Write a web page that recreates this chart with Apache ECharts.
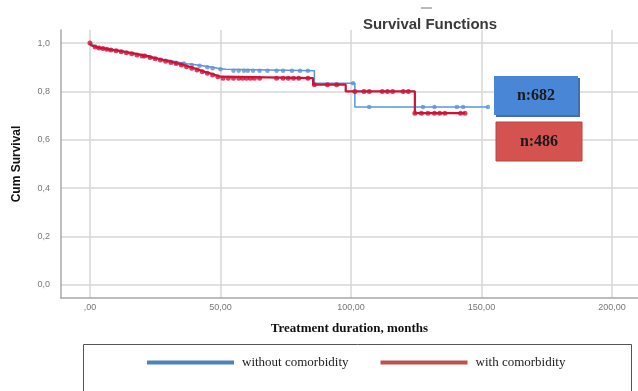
<!DOCTYPE html>
<html>
<head>
<meta charset="utf-8">
<script src="https://cdn.jsdelivr.net/npm/echarts@6/dist/echarts.min.js"></script>
<style>html,body{margin:0;padding:0;background:#fff;}#c{width:638px;height:391px;}</style>
</head>
<body>
<div id="c"></div>
<script>
// ---- data ----
const xTicks = [0, 50, 100, 150, 200];
const xTickLabels = [',00', '50,00', '100,00', '150,00', '200,00'];
const yTicks = [0, 0.2, 0.4, 0.6, 0.8, 1.0];
const yTickLabels = ['0,0', '0,2', '0,4', '0,6', '0,8', '1,0'];

const seriesNames = ['without comorbidity', 'with comorbidity'];
const boxLabels = ['n:682', 'n:486'];

// without comorbidity (blue) step function
const blueTimes = [0, 0.5, 1.2, 2.5, 4, 5.5, 7, 9, 11, 13, 15, 17, 19.5, 22, 24, 26, 28, 31, 33, 35, 37, 39, 41, 43, 45, 47, 49, 52, 86, 101.5, 152.5];
const blueSurv  = [1.0, 0.992, 0.986, 0.982, 0.979, 0.976, 0.973, 0.97, 0.966, 0.962, 0.958, 0.953, 0.948, 0.942, 0.937, 0.933, 0.928, 0.922, 0.919, 0.915, 0.912, 0.909, 0.906, 0.903, 0.9, 0.896, 0.892, 0.886, 0.834, 0.736, 0.736];
const blueCensor = [33, 36, 39, 42, 45, 47, 50, 55, 57, 59, 60.5, 62.5, 65, 68, 71.5, 74, 77.4, 80.5, 83.5, 100.8, 107, 127.6, 132, 140.6, 143, 152.5];

// with comorbidity (red) step function
const redTimes = [0, 0.5, 1.2, 2.5, 4, 5.5, 7, 9, 11, 13, 15, 17, 19.5, 22, 24, 26, 28, 30, 32, 34, 36, 38, 40, 42, 44, 46, 48, 50, 85.5, 98, 124.5, 143.7];
const redSurv  = [1.0, 0.99, 0.984, 0.98, 0.977, 0.974, 0.971, 0.968, 0.964, 0.96, 0.956, 0.951, 0.946, 0.94, 0.935, 0.93, 0.925, 0.92, 0.915, 0.909, 0.902, 0.896, 0.889, 0.881, 0.875, 0.868, 0.861, 0.855, 0.828, 0.80, 0.71, 0.71];
const redCensor = [0, 2, 3.5, 5, 6.5, 8, 10, 12, 14, 16, 18, 20, 21, 23, 25, 27, 29, 31, 33, 35, 37, 39, 41, 43, 45, 47, 49, 51, 53, 55, 57, 58.5, 60, 61.5, 63, 65, 71.5, 74, 76, 78, 80, 83.5, 86, 91, 94.5, 101.5, 105, 107, 112, 114, 116, 120, 122, 124.5, 127, 129.5, 132, 134, 136, 142, 143.7];

// ---- helpers ----
function pairs(t, s) { return t.map((v, i) => [v, s[i]]); }
function censorPoints(ct, t, s) {
  return ct.map(c => {
    let v = s[0];
    for (let i = 0; i < t.length; i++) { if (t[i] <= c) v = s[i]; }
    return [c, v];
  });
}

const blueLine = '#5a95db', redLine = '#cf1238';
const chart = echarts.init(document.getElementById('c'), null, {renderer: 'canvas'});
chart.setOption({
  animation: false,
  backgroundColor: '#fff',
  title: {
    text: 'Survival Functions', left: 425, top: 12, textAlign: 'center',
    textStyle: {fontFamily: 'Liberation Sans, Arial', fontSize: 15, fontWeight: 'bold', color: '#3a3a3a'}
  },
  grid: {left: 61, top: 30, right: 0, bottom: 93, containLabel: false},
  xAxis: {
    type: 'value', min: -11.1, max: 210,
    name: 'Treatment duration, months', nameLocation: 'middle', nameGap: 24,
    nameTextStyle: {fontFamily: 'Liberation Serif, Times New Roman', fontSize: 13, fontWeight: 'bold', color: '#111'},
    axisLine: {show: true, onZero: false, lineStyle: {color: '#a8a8a8', width: 1.5}},
    axisTick: {show: false, customValues: xTicks},
    axisLabel: {customValues: xTicks, formatter: v => xTickLabels[xTicks.indexOf(v)], fontFamily: 'Liberation Sans, Arial', fontSize: 9, color: '#777', margin: 5},
    splitLine: {show: true, lineStyle: {color: '#d6d6d6', width: 1.5}}
  },
  yAxis: {
    type: 'value', min: -0.054, max: 1.054,
    name: 'Cum Survival', nameLocation: 'middle', nameGap: 38, nameRotate: 90,
    nameTextStyle: {fontFamily: 'Liberation Sans Narrow, Arial Narrow, Liberation Sans', fontSize: 12, fontWeight: 'bold', color: '#111'},
    axisLine: {show: true, onZero: false, lineStyle: {color: '#a8a8a8', width: 1.5}},
    axisTick: {show: false, customValues: yTicks},
    axisLabel: {customValues: yTicks, formatter: v => yTickLabels[yTicks.findIndex(t => Math.abs(t - v) < 1e-6)], fontFamily: 'Liberation Sans, Arial', fontSize: 9, color: '#777', margin: 11},
    splitLine: {show: true, lineStyle: {color: '#d6d6d6', width: 1.5}}
  },
  legend: {
    left: 147, top: 356, padding: 0, itemGap: 32, itemWidth: 87, itemHeight: 4,
    data: [
      {name: seriesNames[0], icon: 'rect', itemStyle: {color: '#4f81bd'}},
      {name: seriesNames[1], icon: 'rect', itemStyle: {color: '#c0504d'}}
    ],
    textStyle: {fontFamily: 'Liberation Serif, Times New Roman', fontSize: 13, color: '#222', padding: [0, 0, 0, 3]}
  },
  graphic: [
    {type: 'rect', z: 100, shape: {x: 83.5, y: 344.5, width: 548, height: 70}, style: {fill: 'none', stroke: '#555', lineWidth: 1}},
    {type: 'line', z: 100, shape: {x1: 421, y1: 8, x2: 432, y2: 8}, style: {stroke: '#777', lineWidth: 1}},
    {type: 'rect', z: 100, shape: {x: 496, y: 78, width: 84, height: 39}, style: {fill: '#3f6fae'}},
    {type: 'rect', z: 101, shape: {x: 494, y: 76, width: 84, height: 39}, style: {fill: '#4a86d6'}},
    {type: 'text', z: 102, x: 536, y: 96, style: {text: boxLabels[0], fontFamily: 'Liberation Serif, Times New Roman', fontSize: 16, fontWeight: 'bold', fill: '#1a1a1a', align: 'center', verticalAlign: 'middle'}},
    {type: 'rect', z: 101, shape: {x: 496, y: 122, width: 86, height: 39}, style: {fill: '#d4524f', stroke: '#b84441', lineWidth: 1}},
    {type: 'text', z: 102, x: 539, y: 142, style: {text: boxLabels[1], fontFamily: 'Liberation Serif, Times New Roman', fontSize: 16, fontWeight: 'bold', fill: '#1a1a1a', align: 'center', verticalAlign: 'middle'}}
  ],
  series: [
    {name: seriesNames[0], type: 'line', step: 'end', data: pairs(blueTimes, blueSurv), showSymbol: false, symbol: 'none',
     lineStyle: {color: blueLine, width: 1.5}, itemStyle: {color: blueLine}, z: 2},
    {name: 'blue censored', type: 'scatter', data: censorPoints(blueCensor, blueTimes, blueSurv), symbolSize: 4.5,
     itemStyle: {color: blueLine}, z: 2},
    {name: seriesNames[1], type: 'line', step: 'end', data: pairs(redTimes, redSurv), showSymbol: false, symbol: 'none',
     lineStyle: {color: redLine, width: 2.2}, itemStyle: {color: redLine}, z: 3},
    {name: 'red censored', type: 'scatter', data: censorPoints(redCensor, redTimes, redSurv), symbolSize: 5,
     itemStyle: {color: redLine}, z: 3}
  ]
});
</script>
</body>
</html>
